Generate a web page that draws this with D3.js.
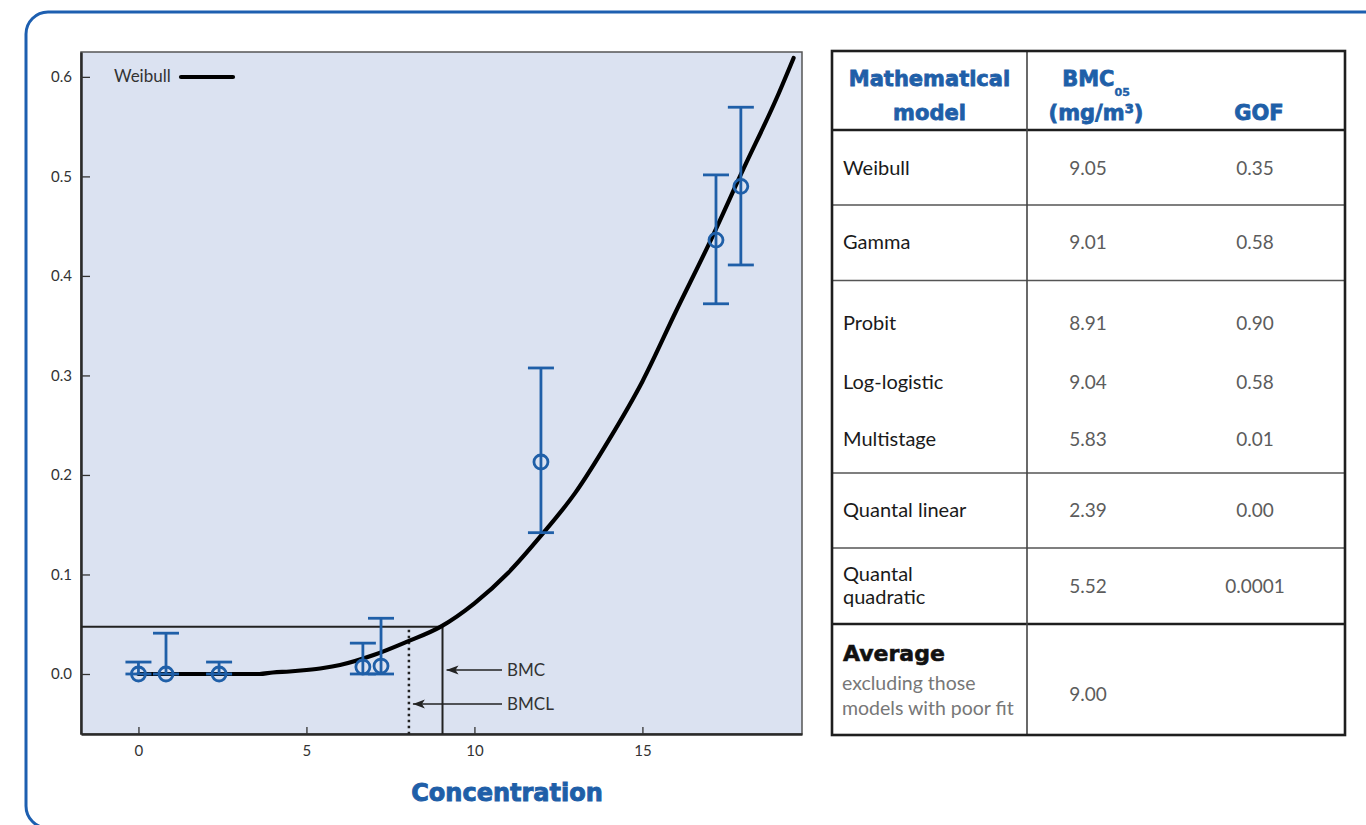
<!DOCTYPE html>
<html>
<head>
<meta charset="utf-8">
<script src="https://cdn.jsdelivr.net/npm/d3@7/dist/d3.min.js"></script>
<style>
  html, body { margin: 0; padding: 0; background: #ffffff; }
  svg { display: block; }
</style>
</head>
<body>
<svg id="chart" width="1366" height="825"></svg>
<script>
// ---------------- DATA ----------------
// Observed responses (concentration, response, lower / upper confidence limits)
const obsX  = [0, 0.82, 2.40, 6.68, 7.22, 11.98, 17.19, 17.93];
const obsY  = [0, 0, 0, 0.007, 0.008, 0.213, 0.436, 0.490];
const obsLo = [0, 0, 0, 0, 0, 0.142, 0.372, 0.411];
const obsHi = [0.012, 0.041, 0.012, 0.031, 0.056, 0.3075, 0.5015, 0.5695];

// Weibull fitted curve
const curveX = [0, 1, 2, 3, 3.6, 4, 4.5, 5, 5.5, 6, 7, 8, 9, 10, 11, 12, 13, 14, 15, 16, 17, 18, 19, 19.5];
const curveY = [0, 0, 0, 0, 0, 0.0015, 0.0025, 0.004, 0.006, 0.009, 0.019, 0.0325, 0.0476, 0.071, 0.1015, 0.1397, 0.182, 0.235, 0.294, 0.3645, 0.4335, 0.507, 0.579, 0.619];

// Benchmark values
const bmcValue  = 9.05;
const bmclValue = 8.05;
const bmrValue  = 0.0475;

// Axis ticks
const xTicks = [0, 5, 10, 15];
const yTicks = [0, 0.1, 0.2, 0.3, 0.4, 0.5, 0.6];

// Table contents
const tableHeaders = ["Mathematical", "model", "BMC", "05", "(mg/m³)", "GOF"];
const models = ["Weibull", "Gamma", "Probit", "Log-logistic", "Multistage", "Quantal linear", "Quantal quadratic"];
const bmcValues = ["9.05", "9.01", "8.91", "9.04", "5.83", "2.39", "5.52"];
const gofValues = ["0.35", "0.58", "0.90", "0.58", "0.01", "0.00", "0.0001"];
const averageLabel = ["Average", "excluding those", "models with poor fit"];
const averageValue = "9.00";

// ---------------- DRAWING ----------------
const svg = d3.select("#chart");
const blue = "#1f5fa8";
const frameBlue = "#1d5fb0";

// outer rounded frame
svg.append("rect")
  .attr("x", 26).attr("y", 12)
  .attr("width", 1420).attr("height", 816)
  .attr("rx", 22).attr("ry", 22)
  .attr("fill", "none").attr("stroke", frameBlue).attr("stroke-width", 3);

// ----- plot -----
const plot = { left: 81, top: 52, right: 802, bottom: 734 };
const x = d3.scaleLinear().domain([-1.71, 19.75]).range([plot.left, plot.right]);
const y = d3.scaleLinear().domain([-0.0603, 0.625]).range([plot.bottom, plot.top]);

svg.append("rect")
  .attr("x", plot.left).attr("y", plot.top)
  .attr("width", plot.right - plot.left).attr("height", plot.bottom - plot.top)
  .attr("fill", "#dbe2f1").attr("stroke", "#555").attr("stroke-width", 1.5);

const labelFont = "Lato, 'DejaVu Sans', sans-serif";

// axes
const yAxis = d3.axisLeft(y).tickValues(yTicks).tickFormat(d3.format(".1f"))
  .tickSizeInner(-9).tickSizeOuter(0).tickPadding(9);
const gy = svg.append("g").attr("transform", `translate(${plot.left},0)`).call(yAxis);
gy.select(".domain").attr("stroke", "#2a2a2a").attr("stroke-width", 2.5);
gy.selectAll(".tick line").attr("stroke", "#333").attr("stroke-width", 1.3);
gy.selectAll(".tick text").attr("font-family", labelFont)
  .attr("font-size", 15).attr("fill", "#333");

const xAxis = d3.axisBottom(x).tickValues(xTicks).tickFormat(d3.format("d"))
  .tickSizeInner(-7).tickSizeOuter(0).tickPadding(11);
const gx = svg.append("g").attr("transform", `translate(0,${plot.bottom})`).call(xAxis);
gx.select(".domain").attr("stroke", "#2a2a2a").attr("stroke-width", 2.5);
gx.selectAll(".tick line").attr("stroke", "#333").attr("stroke-width", 1.3);
gx.selectAll(".tick text").attr("font-family", labelFont)
  .attr("font-size", 15).attr("fill", "#333");

// x-axis title
svg.append("text")
  .attr("x", 507).attr("y", 801)
  .attr("text-anchor", "middle")
  .attr("font-family", "'DejaVu Sans', sans-serif").attr("font-weight", "bold")
  .attr("font-size", 24).attr("fill", blue)
  .attr("stroke", blue).attr("stroke-width", 0.9)
  .text("Concentration");

// BMC reference lines
svg.append("line")
  .attr("x1", plot.left).attr("x2", x(bmcValue))
  .attr("y1", y(bmrValue)).attr("y2", y(bmrValue))
  .attr("stroke", "#222").attr("stroke-width", 2);
svg.append("line")
  .attr("x1", x(bmcValue)).attr("x2", x(bmcValue))
  .attr("y1", y(bmrValue)).attr("y2", plot.bottom)
  .attr("stroke", "#222").attr("stroke-width", 2);
svg.append("line")
  .attr("x1", x(bmclValue)).attr("x2", x(bmclValue))
  .attr("y1", y(bmrValue) + 3).attr("y2", plot.bottom)
  .attr("stroke", "#222").attr("stroke-width", 2.5)
  .attr("stroke-dasharray", "2.5,3.5");

// arrow marker
const defs = svg.append("defs");
defs.append("marker")
  .attr("id", "arrow")
  .attr("viewBox", "0 -5 12 10")
  .attr("refX", 12).attr("refY", 0)
  .attr("markerUnits", "userSpaceOnUse")
  .attr("markerWidth", 12).attr("markerHeight", 10)
  .attr("orient", "auto")
  .append("path")
  .attr("d", "M0,-4.5 L12,0 L0,4.5 L3,0 Z")
  .attr("fill", "#222");

const arrowY1 = 670, arrowY2 = 704, arrowStart = 502;
svg.append("line")
  .attr("x1", arrowStart).attr("x2", x(bmcValue) + 4)
  .attr("y1", arrowY1).attr("y2", arrowY1)
  .attr("stroke", "#222").attr("stroke-width", 1.3)
  .attr("marker-end", "url(#arrow)");
svg.append("line")
  .attr("x1", arrowStart).attr("x2", x(bmclValue) + 4)
  .attr("y1", arrowY2).attr("y2", arrowY2)
  .attr("stroke", "#222").attr("stroke-width", 1.3)
  .attr("marker-end", "url(#arrow)");
svg.append("text").attr("x", 507).attr("y", arrowY1 + 6)
  .attr("font-family", labelFont).attr("font-size", 17).attr("fill", "#333")
  .text("BMC");
svg.append("text").attr("x", 507).attr("y", arrowY2 + 6)
  .attr("font-family", labelFont).attr("font-size", 17).attr("fill", "#333")
  .text("BMCL");

// Weibull curve
const curveData = curveX.map((d, i) => [d, curveY[i]]);
svg.append("path")
  .datum(curveData)
  .attr("d", d3.line().x(d => x(d[0])).y(d => y(d[1])).curve(d3.curveMonotoneX))
  .attr("fill", "none").attr("stroke", "#000").attr("stroke-width", 4.2)
  .attr("stroke-linecap", "round").attr("stroke-linejoin", "round");

// legend
svg.append("text").attr("x", 114).attr("y", 82)
  .attr("font-family", labelFont).attr("font-size", 17).attr("fill", "#333")
  .text("Weibull");
svg.append("line").attr("x1", 181).attr("x2", 233).attr("y1", 77).attr("y2", 77)
  .attr("stroke", "#000").attr("stroke-width", 4.2).attr("stroke-linecap", "round");

// observations with error bars
const obs = obsX.map((d, i) => ({ x: d, y: obsY[i], lo: obsLo[i], hi: obsHi[i] }));
const capHalf = 13;
const eb = svg.append("g").attr("stroke", blue).attr("stroke-width", 2.8).attr("fill", "none");
obs.forEach(o => {
  eb.append("line").attr("x1", x(o.x)).attr("x2", x(o.x)).attr("y1", y(o.lo)).attr("y2", y(o.hi));
  eb.append("line").attr("x1", x(o.x) - capHalf).attr("x2", x(o.x) + capHalf).attr("y1", y(o.hi)).attr("y2", y(o.hi));
  eb.append("line").attr("x1", x(o.x) - capHalf).attr("x2", x(o.x) + capHalf).attr("y1", y(o.lo)).attr("y2", y(o.lo));
  eb.append("circle").attr("cx", x(o.x)).attr("cy", y(o.y)).attr("r", 7);
});

// ----- table -----
const T = { left: 832, right: 1345, top: 51, bottom: 735, colDiv: 1027, bmcX: 1088, gofX: 1255, textX: 843 };
const tg = svg.append("g");
tg.append("rect").attr("x", T.left).attr("y", T.top)
  .attr("width", T.right - T.left).attr("height", T.bottom - T.top)
  .attr("fill", "#fff");

// horizontal separators: [y, thick?]
const seps = [[130, true], [205, false], [280.5, false], [473, false], [548, false], [624, true]];
seps.forEach(s => {
  tg.append("line").attr("x1", T.left).attr("x2", T.right).attr("y1", s[0]).attr("y2", s[0])
    .attr("stroke", s[1] ? "#1e1e1e" : "#555").attr("stroke-width", s[1] ? 2.6 : 1.6);
});
tg.append("line").attr("x1", T.colDiv).attr("x2", T.colDiv).attr("y1", T.top).attr("y2", T.bottom)
  .attr("stroke", "#444").attr("stroke-width", 1.6);
tg.append("rect").attr("x", T.left).attr("y", T.top)
  .attr("width", T.right - T.left).attr("height", T.bottom - T.top)
  .attr("fill", "none").attr("stroke", "#1e1e1e").attr("stroke-width", 2.6);

// headers
const hFont = "'DejaVu Sans', sans-serif";
function hText(xp, yp, str, anchor) {
  return tg.append("text").attr("x", xp).attr("y", yp).attr("text-anchor", anchor || "middle")
    .attr("font-family", hFont).attr("font-weight", "bold").attr("font-size", 21).attr("fill", blue)
    .attr("stroke", blue).attr("stroke-width", 0.8)
    .text(str);
}
hText(929.5, 86, tableHeaders[0]);
hText(929.5, 120, tableHeaders[1]);
const bmcHead = tg.append("text").attr("x", 1096).attr("y", 86).attr("text-anchor", "middle")
  .attr("font-family", hFont).attr("font-weight", "bold").attr("font-size", 21).attr("fill", blue)
  .attr("stroke", blue).attr("stroke-width", 0.8);
bmcHead.append("tspan").text(tableHeaders[2]);
bmcHead.append("tspan").attr("font-size", 11).attr("dy", 10).attr("stroke-width", 0.4).text(tableHeaders[3]);
hText(1096, 120, tableHeaders[4]);
hText(1259, 120, tableHeaders[5]);

// rows
const bodyFont = "Lato, 'DejaVu Sans', sans-serif";
const rowBase = [175, 248.5, 330, 389, 446, 517, 593];
models.forEach((m, i) => {
  if (m === "Quantal quadratic") {
    const t = tg.append("text").attr("font-family", bodyFont).attr("font-size", 20).attr("fill", "#1a1a1a");
    t.append("tspan").attr("x", T.textX).attr("y", 580.5).text("Quantal");
    t.append("tspan").attr("x", T.textX).attr("y", 604).text("quadratic");
  } else {
    tg.append("text").attr("x", T.textX).attr("y", rowBase[i])
      .attr("font-family", bodyFont).attr("font-size", 20).attr("fill", "#1a1a1a").text(m);
  }
  tg.append("text").attr("x", T.bmcX).attr("y", rowBase[i]).attr("text-anchor", "middle")
    .attr("font-family", bodyFont).attr("font-size", 19).attr("fill", "#5c5c5c").text(bmcValues[i]);
  tg.append("text").attr("x", T.gofX).attr("y", rowBase[i]).attr("text-anchor", "middle")
    .attr("font-family", bodyFont).attr("font-size", 19).attr("fill", "#5c5c5c").text(gofValues[i]);
});

// average row
tg.append("text").attr("x", T.textX).attr("y", 661)
  .attr("font-family", hFont).attr("font-weight", "bold").attr("font-size", 22).attr("fill", "#111")
  .attr("stroke", "#111").attr("stroke-width", 0.6)
  .text(averageLabel[0]);
tg.append("text").attr("x", T.textX - 1).attr("y", 690)
  .attr("font-family", bodyFont).attr("font-size", 19.5).attr("fill", "#777").text(averageLabel[1]);
tg.append("text").attr("x", T.textX - 1).attr("y", 715)
  .attr("font-family", bodyFont).attr("font-size", 19.5).attr("fill", "#777").text(averageLabel[2]);
tg.append("text").attr("x", T.bmcX).attr("y", 700.5).attr("text-anchor", "middle")
  .attr("font-family", bodyFont).attr("font-size", 19).attr("fill", "#5c5c5c").text(averageValue);
</script>
</body>
</html>
